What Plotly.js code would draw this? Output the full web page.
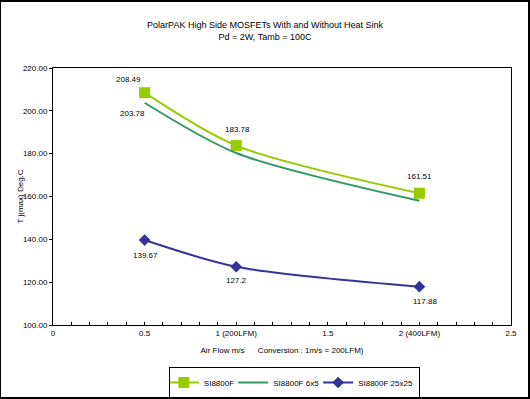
<!DOCTYPE html>
<html><head><meta charset="utf-8">
<script src="https://cdn.plot.ly/plotly-3.0.1.min.js"></script>
<style>html,body{margin:0;padding:0;background:#fff}#c{width:530px;height:399px}</style>
</head><body><div id="c"></div>
<script>
const airFlow = [0.5, 1, 2];
const si8800f = [208.49, 183.78, 161.51];
const si8800f6x5 = [203.78, 180.3, 158.0];
const si8800f25x25 = [139.67, 127.2, 117.88];
const seriesNames = ['SI8800F', 'SI8800F 6x5', 'SI8800F 25x25'];
const xTickVals = [0, 0.5, 1, 1.5, 2, 2.5];
const xTickText = ['0', '0.5', '1 (200LFM)', '1.5', '2 (400LFM)', '2.5'];
const yTickVals = [100, 120, 140, 160, 180, 200, 220];

const labels = [
  {x: airFlow[0], y: si8800f[0], t: si8800f[0], dx: -16, dy: 13},
  {x: airFlow[0], y: si8800f6x5[0], t: si8800f6x5[0], dx: -12, dy: -11},
  {x: airFlow[1], y: si8800f[1], t: si8800f[1], dx: 1, dy: 16},
  {x: airFlow[2], y: si8800f[2], t: si8800f[2], dx: 0, dy: 17},
  {x: airFlow[0], y: si8800f25x25[0], t: si8800f25x25[0], dx: 1, dy: -15},
  {x: airFlow[1], y: si8800f25x25[1], t: si8800f25x25[1], dx: 0, dy: -14},
  {x: airFlow[2], y: si8800f25x25[2], t: si8800f25x25[2], dx: 6, dy: -15}
];

const F = 'Liberation Sans, Arial, sans-serif';
const FN = 'Liberation Sans Narrow, Arial Narrow, Liberation Sans, sans-serif';
const traces = [
  {x: airFlow, y: si8800f, name: seriesNames[0], mode: 'lines+markers', type: 'scatter',
   line: {color: '#99CC00', width: 2, shape: 'spline', smoothing: 0.8},
   marker: {symbol: 'square', size: 11, color: '#99CC00'}},
  {x: airFlow, y: si8800f6x5, name: seriesNames[1], mode: 'lines', type: 'scatter',
   line: {color: '#339966', width: 2, shape: 'spline', smoothing: 0.8}},
  {x: airFlow, y: si8800f25x25, name: seriesNames[2], mode: 'lines+markers', type: 'scatter',
   line: {color: '#333399', width: 2, shape: 'spline', smoothing: 0.8},
   marker: {symbol: 'diamond', size: 9, color: '#333399'}}
];

const layout = {
  width: 530, height: 399,
  margin: {l: 53, r: 19, t: 68, b: 74, autoexpand: false},
  paper_bgcolor: '#fff', plot_bgcolor: '#fff',
  font: {family: F, size: 8, color: '#000'},
  title: {text: 'PolarPAK High Side MOSFETs With and Without Heat Sink<br>Pd = 2W, Tamb = 100C',
          font: {family: F, size: 9, color: '#000'}, x: 0.5, xanchor: 'center',
          y: 1 - 28/399, yref: 'container', yanchor: 'middle'},
  xaxis: {range: [0, 2.5], tickvals: xTickVals, ticktext: xTickText, automargin: false,
          showgrid: false, zeroline: false, showline: true, linecolor: '#000', linewidth: 1,
          mirror: true, ticks: 'inside', ticklen: 3, tickcolor: '#000',
          minor: {dtick: 0.1, ticks: 'inside', ticklen: 3, tickcolor: '#000'},
          tickfont: {family: F, size: 8},
          title: {text: 'Air Flow m/s&nbsp;&nbsp;&nbsp;&nbsp;&nbsp;&nbsp;Conversion : 1m/s = 200LFM)', font: {family: F, size: 8}, standoff: 10}},
  yaxis: {range: [100, 220], tickvals: yTickVals, tickformat: '.2f', automargin: false,
          showgrid: false, zeroline: false, showline: true, linecolor: '#000', linewidth: 1,
          mirror: true, ticks: 'outside', ticklen: 3, tickcolor: '#000',
          tickfont: {family: F, size: 8}},
  showlegend: true,
  legend: {orientation: 'h', x: 0.527, xanchor: 'center', y: 1 - 367/399, yref: 'container', yanchor: 'top',
           bordercolor: '#000', borderwidth: 1, bgcolor: '#fff',
           font: {family: FN, size: 8}, itemwidth: 30, tracegroupgap: 0, indentation: -6},
  annotations: labels.map(l => ({x: l.x, y: l.y, xref: 'x', yref: 'y', text: String(l.t),
    showarrow: false, xshift: l.dx, yshift: l.dy, font: {family: F, size: 8, color: '#000'}}))
    .concat([{x: -33/458, y: 0.5, xref: 'paper', yref: 'paper', text: 'T j(max) Deg.C', textangle: -90,
      showarrow: false, xanchor: 'center', yanchor: 'middle', font: {family: F, size: 8, color: '#000'}}]),
  shapes: [{type: 'rect', xref: 'paper', yref: 'paper', x0: -53/458, x1: 1 + 18/458,
            y0: -73/257, y1: 1 + 67/257, line: {color: '#000', width: 2}}]
};
Plotly.newPlot('c', traces, layout, {displayModeBar: false, staticPlot: true});
</script></body></html>
